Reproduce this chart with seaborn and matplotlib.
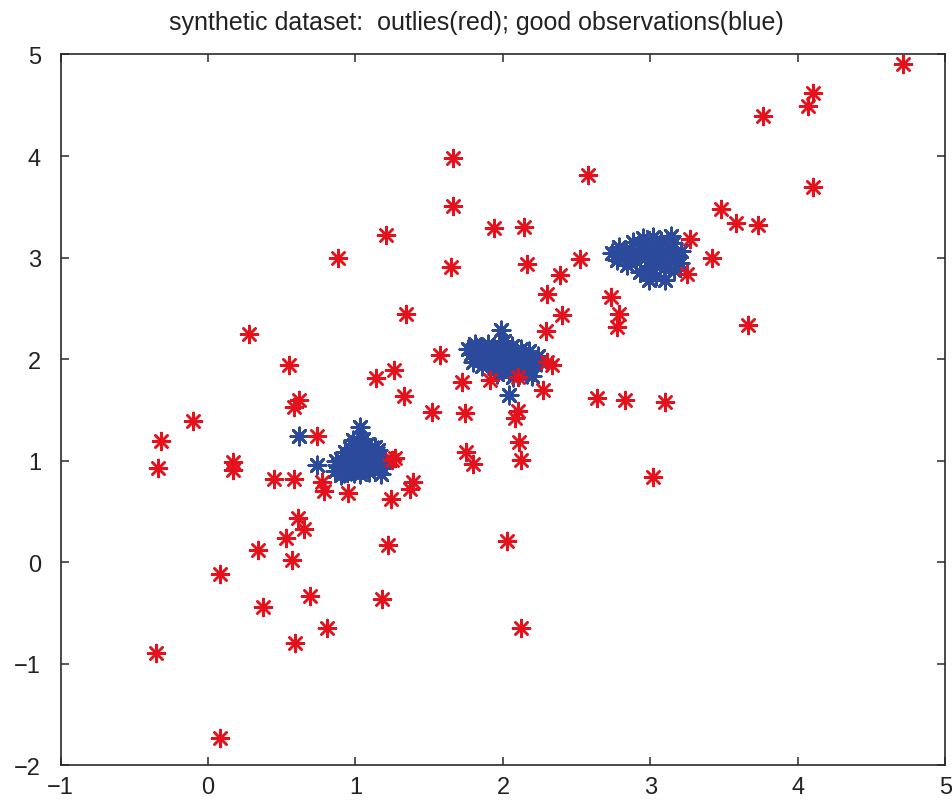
import matplotlib
matplotlib.use("Agg")
import matplotlib.pyplot as plt
import seaborn as sns
import pandas as pd

# --- good observations (blue), three tight groups plus a few strays ---
good_x = [
    # group near (1, 1)
    0.88, 0.90, 0.92, 0.93, 0.95, 0.96, 0.97, 0.98, 0.99, 1.00, 1.01, 1.02, 1.03,
    1.04, 1.05, 1.06, 1.07, 1.08, 1.10, 1.12, 1.14, 1.16, 0.94, 0.97, 1.00, 1.03,
    1.06, 1.09, 1.12, 0.91, 0.99, 1.05, 1.11, 1.02, 1.08, 0.95, 1.03, 0.62, 0.74,
    1.18, 1.20, 0.86, 0.87, 1.15, 1.17, 0.90, 1.13, 0.98,
    # group near (2, 2)
    1.78, 1.80, 1.82, 1.84, 1.86, 1.88, 1.90, 1.92, 1.94, 1.95, 1.97, 1.98, 2.00,
    2.01, 2.02, 2.04, 2.05, 2.06, 2.08, 2.09, 2.11, 2.12, 2.14, 2.15, 2.17, 2.18,
    2.20, 2.22, 2.24, 1.87, 1.93, 2.03, 2.10, 2.16, 2.20, 1.99, 2.04, 1.96, 2.07,
    1.76, 1.81, 2.26, 2.13,
    # group near (3, 3)
    2.74, 2.77, 2.79, 2.82, 2.84, 2.86, 2.88, 2.90, 2.92, 2.93, 2.95, 2.96, 2.98,
    3.00, 3.01, 3.02, 3.04, 3.05, 3.06, 3.08, 3.09, 3.10, 3.12, 3.13, 3.15, 3.16,
    3.18, 3.20, 3.21, 2.88, 2.97, 3.03, 2.94, 3.14, 2.99, 3.07,
]
good_y = [
    0.95, 1.02, 0.88, 1.08, 0.97, 1.12, 0.90, 1.04, 1.15, 0.93, 1.00, 1.18, 0.87,
    1.07, 0.96, 1.13, 0.92, 1.03, 1.10, 0.95, 1.02, 0.98, 1.01, 0.97, 1.09, 1.02,
    1.00, 0.89, 1.06, 0.93, 0.88, 1.21, 0.99, 0.94, 1.16, 1.05, 1.33, 1.24, 0.96,
    0.93, 1.00, 0.90, 1.00, 1.10, 0.87, 0.86, 1.13, 1.20,
    2.05, 1.97, 2.12, 2.02, 1.93, 2.08, 2.15, 1.99, 2.06, 1.90, 2.12, 2.01, 1.95,
    2.18, 2.07, 1.88, 2.00, 2.13, 1.94, 2.05, 1.86, 2.10, 1.98, 2.04, 1.92, 2.08,
    2.00, 1.95, 2.03, 2.00, 2.10, 1.97, 2.01, 1.85, 1.83, 2.29, 1.65, 1.85, 1.82,
    2.10, 2.15, 1.97, 1.92,
    3.04, 2.98, 3.10, 3.02, 2.93, 3.08, 3.15, 2.97, 3.04, 2.86, 3.19, 3.00, 3.10,
    2.92, 3.05, 3.20, 2.82, 2.98, 3.12, 3.03, 2.90, 2.78, 3.08, 2.97, 3.14, 2.88,
    3.02, 2.95, 3.06, 3.01, 2.83, 2.94, 3.12, 3.21, 2.78, 3.16,
]

# --- outliers (red) ---
outlier_x = [
    4.71, 4.10, 4.07, 3.76, 4.10, 3.48, 3.58, 3.73, 3.42, 3.66,
    3.27, 3.25, 2.52, 2.39, 2.30, 2.73, 2.40, 2.79, 2.77, 2.29,
    2.30, 2.33, 2.64, 2.83, 3.10, 3.02,
    1.66, 2.58, 1.66, 1.94, 2.14, 1.21, 0.88, 1.65, 2.16, 1.34,
    1.57, 2.10, 1.91, 1.72, 1.26, 1.14, 2.27, 1.33, 1.52, 1.74,
    2.10, 2.08, 0.74, 2.11, 1.75, 1.80, 2.12, 1.27, 1.25, 1.39, 1.37,
    0.95, 0.77, 0.79, 1.24,
    0.28, 0.55, 0.62, 0.58, -0.10, -0.32, -0.34, 0.17, 0.17, 0.45, 0.58,
    0.61, 0.65, 0.53, 0.34, 1.22, 0.57, 0.08, 0.69, 0.37, 1.18, 0.81, 0.59,
    -0.35, 0.08,
    2.03, 2.12,
]
outlier_y = [
    4.91, 4.62, 4.49, 4.39, 3.69, 3.48, 3.34, 3.32, 3.00, 2.34,
    3.18, 2.84, 2.99, 2.83, 2.64, 2.61, 2.43, 2.44, 2.32, 2.28,
    1.97, 1.94, 1.62, 1.60, 1.58, 0.84,
    3.98, 3.81, 3.51, 3.29, 3.30, 3.22, 3.00, 2.91, 2.94, 2.44,
    2.04, 1.82, 1.79, 1.77, 1.89, 1.81, 1.70, 1.64, 1.48, 1.47,
    1.49, 1.42, 1.24, 1.18, 1.08, 0.97, 1.01, 1.03, 1.01, 0.79, 0.72,
    0.68, 0.79, 0.70, 0.62,
    2.25, 1.94, 1.60, 1.53, 1.39, 1.19, 0.93, 0.99, 0.91, 0.82, 0.82,
    0.43, 0.33, 0.24, 0.12, 0.17, 0.02, -0.12, -0.33, -0.44, -0.36, -0.65, -0.80,
    -0.89, -1.73,
    0.21, -0.65,
]

x_ticks = [-1, 0, 1, 2, 3, 4, 5]
y_ticks = [-2, -1, 0, 1, 2, 3, 4, 5]
title_text = "synthetic dataset:  outlies(red); good observations(blue)"

RED = "#e3121c"
BLUE = "#2c4a9c"
INK = "#2a2a2a"

sns.set_theme(style="white")
plt.rcParams["font.family"] = ["Liberation Sans", "DejaVu Sans"]

fig = plt.figure(figsize=(9.53, 8.04), dpi=100)
ax = fig.add_axes([0.0635, 0.047, 0.9285, 0.884])

good = pd.DataFrame({"x": good_x, "y": good_y})
bad = pd.DataFrame({"x": outlier_x, "y": outlier_y})

asterisk = (8, 2, 0)
sns.scatterplot(data=good, x="x", y="y", marker=asterisk, s=155,
                color=BLUE, linewidth=2.0, ax=ax, zorder=2)
sns.scatterplot(data=bad, x="x", y="y", marker=asterisk, s=150,
                color=RED, linewidth=1.8, ax=ax, zorder=3)

ax.set_xlim(-1, 5)
ax.set_ylim(-2, 5)
ax.set_xticks(x_ticks)
ax.set_yticks(y_ticks)
ax.set_xticklabels([f"{t}".replace("-", "\u2212") for t in x_ticks])
ax.set_yticklabels([f"{t}".replace("-", "\u2212") for t in y_ticks])
ax.set_xlabel("")
ax.set_ylabel("")

for side in ["left", "right", "top", "bottom"]:
    ax.spines[side].set_visible(True)
    ax.spines[side].set_color(INK)
    ax.spines[side].set_linewidth(1.2)

ax.tick_params(direction="in", length=6, width=1.1, color=INK,
               labelsize=17, labelcolor="#222222",
               top=True, right=True, bottom=True, left=True)
ax.tick_params(axis="y", pad=14)
ax.tick_params(axis="x", pad=8)

ax.set_title(title_text, fontsize=18, color="#222222", pad=18, x=0.47)

fig.savefig("out.png", dpi=100, facecolor="white")
